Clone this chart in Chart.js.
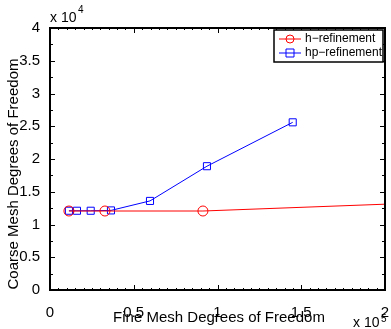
<!DOCTYPE html>
<html>
<head>
<meta charset="utf-8">
<script src="https://cdn.jsdelivr.net/npm/chart.js@4/dist/chart.umd.min.js"></script>
<style>
  html, body { margin: 0; padding: 0; background: #fff; }
  #wrap { width: 391px; height: 329px; }
</style>
</head>
<body>
<div id="wrap"><canvas id="chart" width="391" height="329"></canvas></div>
<script>
// data
var hX = [11300, 32800, 91300, 200000];
var hY = [12060, 12060, 12060, 13100];
var hpX = [11300, 16100, 24300, 36400, 59700, 93700, 144900];
var hpY = [12100, 12100, 12100, 12150, 13600, 18900, 25600];
var xTicks = [0, 0.5, 1, 1.5, 2];
var yTicks = [0, 0.5, 1, 1.5, 2, 2.5, 3, 3.5, 4];

var font = "'Liberation Sans', Arial, sans-serif";

function pts(xs, ys) {
  return xs.map(function (x, i) { return { x: x, y: ys[i] }; });
}

// MATLAB style box, inward ticks, axis titles and exponents
var matlabAxes = {
  id: 'matlabAxes',
  afterDraw: function (chart) {
    var c = chart.ctx, a = chart.chartArea;
    var xs = chart.scales.x, ys = chart.scales.y;
    c.save();
    c.strokeStyle = '#000';
    c.lineWidth = 1;
    c.beginPath();
    // x ticks
    for (var v = 0; v <= 2.0001; v += 0.05) {
      var px = Math.round(xs.getPixelForValue(v * 1e5)) + 0.5;
      var major = Math.abs(v * 2 - Math.round(v * 2)) < 1e-6;
      var len = major ? 5 : 2;
      c.moveTo(px, a.bottom); c.lineTo(px, a.bottom - len);
      c.moveTo(px, a.top); c.lineTo(px, a.top + len);
    }
    // y ticks
    for (var w = 0; w <= 4.0001; w += 0.25) {
      var py = Math.round(ys.getPixelForValue(w * 1e4)) + 0.5;
      var maj = Math.abs(w * 2 - Math.round(w * 2)) < 1e-6;
      var l = maj ? 5 : 3;
      c.moveTo(a.left, py); c.lineTo(a.left + l, py);
      c.moveTo(a.right, py); c.lineTo(a.right - l, py);
    }
    c.stroke();
    c.lineWidth = 2;
    c.strokeRect(a.left, a.top, a.right - a.left, a.bottom - a.top);

    c.fillStyle = '#000';
    c.font = '15px ' + font;
    c.textAlign = 'center';
    c.textBaseline = 'middle';
    c.fillText('Fine Mesh Degrees of Freedom', 219, 318);
    c.save();
    c.translate(14, 174);
    c.rotate(-Math.PI / 2);
    c.fillText('Coarse Mesh Degrees of Freedom', 0, 0);
    c.restore();

    // exponents
    c.textAlign = 'left';
    c.font = '14px ' + font;
    c.fillText('x 10', 50, 18);
    c.font = '10px ' + font;
    c.fillText('4', 78, 10);
    c.font = '14px ' + font;
    c.fillText('x 10', 353, 323);
    c.font = '10px ' + font;
    c.fillText('5', 381, 319);

    // legend box
    var lx = 274, ly = 30, lw = 109, lh = 32;
    c.fillStyle = '#fff';
    c.fillRect(lx, ly, lw, lh);
    c.lineWidth = 1.5;
    c.strokeStyle = '#000';
    c.strokeRect(lx, ly, lw, lh);
    var items = [
      { t: 'h\u2212refinement', col: '#ff0000', shape: 'circle', y: ly + 9 },
      { t: 'hp\u2212refinement', col: '#0000ff', shape: 'rect', y: ly + 23 }
    ];
    items.forEach(function (it) {
      c.strokeStyle = it.col;
      c.lineWidth = 1;
      c.beginPath();
      c.moveTo(lx + 5, it.y); c.lineTo(lx + 27, it.y);
      c.stroke();
      c.beginPath();
      if (it.shape === 'circle') {
        c.arc(lx + 16, it.y, 4, 0, Math.PI * 2);
      } else {
        c.rect(lx + 12, it.y - 4, 8, 8);
      }
      c.stroke();
      c.fillStyle = '#000';
      c.font = '12px ' + font;
      c.textAlign = 'left';
      c.fillText(it.t, lx + 31, it.y);
    });
    c.restore();
  }
};

var ctx = document.getElementById('chart').getContext('2d');

var myChart = new Chart(ctx, {
  type: 'scatter',
  data: {
    datasets: [{
      label: 'h-refinement',
      data: pts(hX, hY),
      showLine: true,
      borderColor: '#ff0000',
      backgroundColor: 'rgba(0,0,0,0)',
      borderWidth: 1,
      pointStyle: 'circle',
      pointRadius: [5, 5, 5, 0],
      pointBorderColor: '#ff0000',
      pointBorderWidth: 1
    }, {
      label: 'hp-refinement',
      data: pts(hpX, hpY),
      showLine: true,
      borderColor: '#0000ff',
      backgroundColor: 'rgba(0,0,0,0)',
      borderWidth: 1,
      pointStyle: 'rect',
      pointRadius: 5,
      pointBorderColor: '#0000ff',
      pointBorderWidth: 1
    }]
  },
  options: {
    responsive: false,
    animation: false,
    layout: { padding: { top: 28, right: 5, left: 0, bottom: 0 } },
    plugins: {
      legend: { display: false },
      tooltip: { enabled: false }
    },
    scales: {
      x: {
        type: 'linear',
        min: 0,
        max: 200000,
        afterFit: function (s) {
          s.height = 39;
          s.paddingLeft = 0; s.paddingRight = 0;
          s.paddingTop = 0; s.paddingBottom = 0;
        },
        afterBuildTicks: function (s) {
          s.ticks = xTicks.map(function (v) { return { value: v * 1e5 }; });
        },
        grid: { display: false },
        border: { display: false },
        ticks: {
          color: '#000',
          font: { family: font, size: 15 },
          padding: 6,
          maxRotation: 0,
          callback: function (v) { return String(v / 1e5); }
        }
      },
      y: {
        type: 'linear',
        min: 0,
        max: 40000,
        afterFit: function (s) {
          s.width = 50;
          s.paddingLeft = 0; s.paddingRight = 0;
          s.paddingTop = 0; s.paddingBottom = 0;
        },
        afterBuildTicks: function (s) {
          s.ticks = yTicks.map(function (v) { return { value: v * 1e4 }; });
        },
        grid: { display: false },
        border: { display: false },
        ticks: {
          color: '#000',
          font: { family: font, size: 15 },
          padding: 2,
          callback: function (v) { return String(v / 1e4); }
        }
      }
    }
  },
  plugins: [matlabAxes]
});
</script>
</body>
</html>
